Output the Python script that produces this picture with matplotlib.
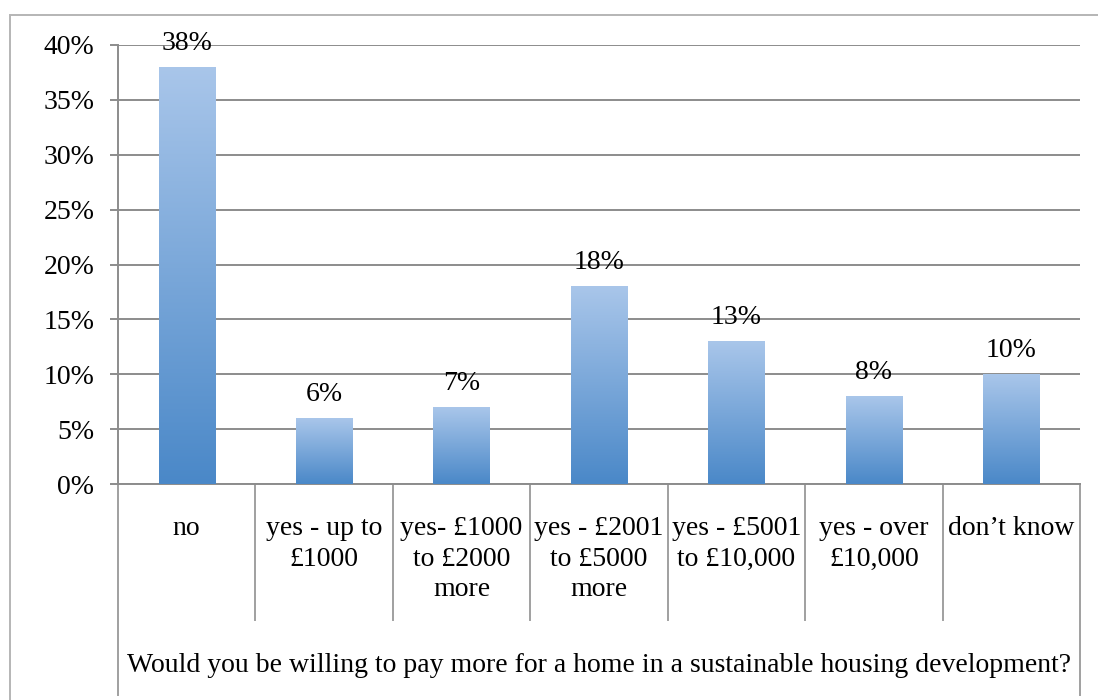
import numpy as np
import matplotlib
matplotlib.use("Agg")
import matplotlib.pyplot as plt
from matplotlib.colors import LinearSegmentedColormap
from matplotlib.patches import Rectangle
from matplotlib.ticker import PercentFormatter

plt.rcParams['font.family'] = ['Liberation Serif', 'DejaVu Serif']

# data
categories = ['no', 'yes - up to\n£1000', 'yes- £1000\nto £2000\nmore',
              'yes - £2001\nto £5000\nmore', 'yes - £5001\nto £10,000',
              'yes - over\n£10,000', 'don\u2019t know']
values = [38, 6, 7, 18, 13, 8, 10]
yticks = [0, 5, 10, 15, 20, 25, 30, 35, 40]
group_title = 'Would you be willing to pay more for a home in a sustainable housing development?'

grey = '#8c8c8c'
fs = 20
fig = plt.figure(figsize=(10.98, 7.0), dpi=100)
ax = fig.add_axes([118/1098, 1-484/700, (1080-118)/1098, (484-45)/700])

x = np.arange(len(values))
bars = ax.bar(x, values, width=0.41, color='none', zorder=3)

# each bar gets its own light-to-dark gradient
cmap = LinearSegmentedColormap.from_list('bl', ['#4a88c8', '#a9c6ea'])
grad = np.linspace(0, 1, 256).reshape(-1, 1)
for b in bars:
    x0, w, h = b.get_x(), b.get_width(), b.get_height()
    im = ax.imshow(grad, extent=[x0, x0 + w, 0, h], origin='lower', cmap=cmap,
                   aspect='auto', zorder=3)
    im.set_clip_path(b)
    ax.text(x0 + w/2, h + 1.0, '%d%%' % h, ha='center', va='bottom',
            fontsize=fs, zorder=5)

ax.set_xlim(-0.5, len(values) - 0.5)
ax.set_ylim(0, 40)
ax.set_yticks(yticks)
ax.yaxis.set_major_formatter(PercentFormatter(decimals=0))
ax.tick_params(axis='y', length=6, width=1.4, color=grey, pad=11, labelsize=fs)
ax.set_xticks([])
ax.grid(axis='y', color=grey, lw=1.4, zorder=1)
ax.set_axisbelow(True)
for s in ['top', 'right']:
    ax.spines[s].set_visible(False)
for s in ['left', 'bottom']:
    ax.spines[s].set_color(grey)
    ax.spines[s].set_linewidth(1.4)

# category separators and labels under the axis
tr = ax.get_xaxis_transform()
bot_inner = (484 - 620) / 439
bot_outer = (484 - 695) / 439
for i in range(len(values) + 1):
    xb = i - 0.5
    yb = bot_outer if i in (0, len(values)) else bot_inner
    ax.plot([xb, xb], [0, yb], transform=tr, color='#a0a0a0', lw=1.4, clip_on=False)
for i, c in enumerate(categories):
    ax.text(i, (484 - 516) / 439, c, transform=tr, ha='center', va='top',
            fontsize=fs, linespacing=1.3)
ax.text((len(values) - 1) / 2, (484 - 665) / 439, group_title, transform=tr,
        ha='center', va='center', fontsize=fs)

# outer chart frame
fig.add_artist(Rectangle((10/1098, -0.05), 1.2, 1.05 - 15/700,
                         transform=fig.transFigure, fill=False,
                         ec='#b5b5b5', lw=1.4))

fig.savefig('out.png', dpi=100)
